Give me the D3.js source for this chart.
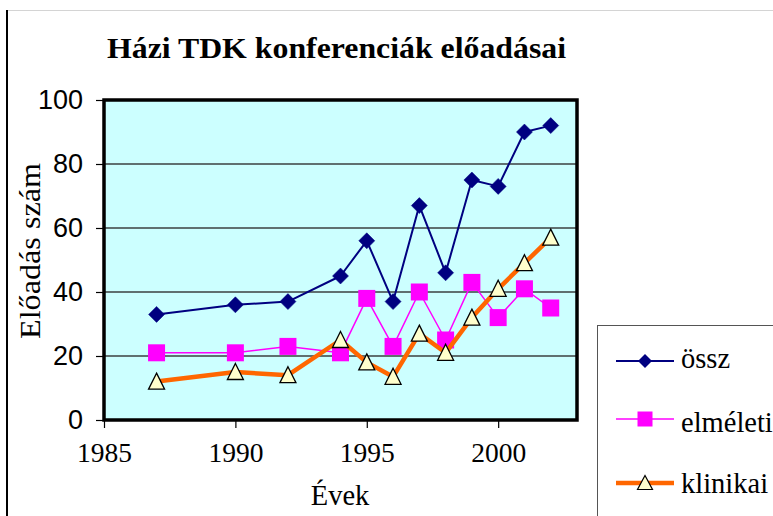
<!DOCTYPE html>
<html><head><meta charset="utf-8">
<script src="https://cdn.jsdelivr.net/npm/d3@7"></script>
<style>body{margin:0;background:#fff}svg{display:block}</style>
</head><body>
<script>
const years = [1987, 1990, 1992, 1994, 1995, 1996, 1997, 1998, 1999, 2000, 2001, 2002];
const ossz = [33, 36, 37, 45, 56, 37, 67, 46, 75, 73, 90, 92];
const elmeleti = [21, 21, 23, 21, 38, 23, 40, 25, 43, 32, 41, 35];
const klinikai = [12, 15, 14, 25, 18, 13.5, 27, 21, 32, 41, 49, 57];
const xTicks = [1985, 1990, 1995, 2000];
const yTicks = [0, 20, 40, 60, 80, 100];
const seriesNames = ["össz", "elméleti", "klinikai"];

const SERIF = "'Liberation Serif', 'Times New Roman', Times, serif";
const SANS = "'Liberation Sans', Arial, Helvetica, sans-serif";
const W = 773, H = 516;
const svg = d3.select("body").append("svg").attr("width", W).attr("height", H);
svg.append("rect").attr("width", W).attr("height", H).attr("fill", "#fff");

// outer frame
svg.append("line").attr("x1", 7).attr("x2", W).attr("y1", 10.5).attr("y2", 10.5).attr("stroke", "#d4d4d4").attr("stroke-width", 1);
svg.append("line").attr("x1", 7).attr("x2", 7).attr("y1", 10).attr("y2", H).attr("stroke", "#000").attr("stroke-width", 2);

const L = 104, R = 577, T = 100, B = 420;
const x = d3.scaleLinear().domain([1985, 2003]).range([L, R]);
const y = d3.scaleLinear().domain([0, 100]).range([B, T]);

svg.append("rect").attr("x", L).attr("y", T).attr("width", R - L).attr("height", B - T).attr("fill", "#ccffff");

// grid
svg.append("g").selectAll("line").data(yTicks.filter(d => d > 0 && d < 100)).join("line")
  .attr("x1", L).attr("x2", R).attr("y1", d => y(d)).attr("y2", d => y(d))
  .attr("stroke", "#5f7070").attr("stroke-width", 2);

// axes
const yAxis = svg.append("g").attr("transform", `translate(${L},0)`)
  .call(d3.axisLeft(y).tickValues(yTicks).tickSize(8).tickPadding(13));
yAxis.select(".domain").remove();
yAxis.selectAll("line").attr("stroke", "#000").attr("stroke-width", 1.2);
yAxis.selectAll("text").attr("font-family", SANS).attr("font-size", 27).attr("fill", "#000");

const xAxis = svg.append("g").attr("transform", `translate(0,${B})`)
  .call(d3.axisBottom(x).tickValues(xTicks).tickFormat(d3.format("d")).tickSize(8).tickPadding(14));
xAxis.select(".domain").remove();
xAxis.selectAll("line").attr("stroke", "#000").attr("stroke-width", 1.2);
xAxis.selectAll("text").attr("font-family", SERIF).attr("font-size", 27.5).attr("fill", "#000");

// plot border
svg.append("rect").attr("x", L).attr("y", T).attr("width", R - L).attr("height", B - T)
  .attr("fill", "none").attr("stroke", "#000").attr("stroke-width", 3.5);

// titles
svg.append("text").attr("x", 336.5).attr("y", 58).attr("text-anchor", "middle")
  .attr("font-family", SERIF).attr("font-weight", "bold").attr("font-size", 29)
  .attr("textLength", 459).attr("lengthAdjust", "spacingAndGlyphs")
  .text("Házi TDK konferenciák előadásai");
svg.append("text").attr("transform", "translate(40,251) rotate(-90)").attr("text-anchor", "middle")
  .attr("font-family", SERIF).attr("font-size", 29)
  .attr("textLength", 176).attr("lengthAdjust", "spacingAndGlyphs")
  .text("Előadás szám");
svg.append("text").attr("x", 340).attr("y", 505).attr("text-anchor", "middle")
  .attr("font-family", SERIF).attr("font-size", 28.5)
  .text("Évek");

const line = d3.line().x(d => x(d[0])).y(d => y(d[1]));
function diamondPath(s) { return `M0,${-s}L${s},0L0,${s}L${-s},0Z`; }
function trianglePath(w, h) { return `M0,${-h / 2 - 1}L${w / 2},${h / 2}L${-w / 2},${h / 2}Z`; }

function drawSeries(vals, color, width, marker) {
  const pts = years.map((yr, i) => [yr, vals[i]]);
  const g = svg.append("g");
  g.append("path").attr("d", line(pts)).attr("fill", "none").attr("stroke", color).attr("stroke-width", width).attr("stroke-linejoin", "round");
  const m = g.selectAll("path.m").data(pts).join("path").attr("class", "m")
    .attr("transform", d => `translate(${x(d[0])},${y(d[1])})`);
  marker(m);
}
drawSeries(ossz, "#000080", 2, m => m.attr("d", diamondPath(8)).attr("fill", "#000080").attr("stroke", "#000080").attr("stroke-width", 0.5));
drawSeries(elmeleti, "#ff00ff", 1.5, m => m.attr("d", "M-8.5,-8.5h17v17h-17Z").attr("fill", "#ff00ff"));
drawSeries(klinikai, "#ff6600", 4.5, m => m.attr("d", trianglePath(16, 15)).attr("fill", "#ffffcc").attr("stroke", "#000").attr("stroke-width", 1.3));

// legend
const lg = svg.append("g");
lg.append("rect").attr("x", 597.5).attr("y", 325.5).attr("width", 200).attr("height", 220)
  .attr("fill", "#fff").attr("stroke", "#555").attr("stroke-width", 1);
const legY = [361, 419, 483];
const legBase = [368, 432, 493];
const legColors = ["#000080", "#ff00ff", "#ff6600"];
const legWidths = [2, 1.5, 4.5];
seriesNames.forEach((n, i) => {
  lg.append("line").attr("x1", 616).attr("x2", 674).attr("y1", legY[i]).attr("y2", legY[i])
    .attr("stroke", legColors[i]).attr("stroke-width", legWidths[i]);
  const p = lg.append("path").attr("transform", `translate(645,${legY[i]})`);
  if (i === 0) p.attr("d", diamondPath(7)).attr("fill", "#000080");
  else if (i === 1) p.attr("d", "M-7.5,-7.5h15v15h-15Z").attr("fill", "#ff00ff");
  else p.attr("d", trianglePath(15, 13)).attr("fill", "#ffffcc").attr("stroke", "#000").attr("stroke-width", 1.2);
  lg.append("text").attr("x", 681).attr("y", legBase[i])
    .attr("font-family", SERIF).attr("font-size", 28.5).text(n);
});
</script>
</body></html>
